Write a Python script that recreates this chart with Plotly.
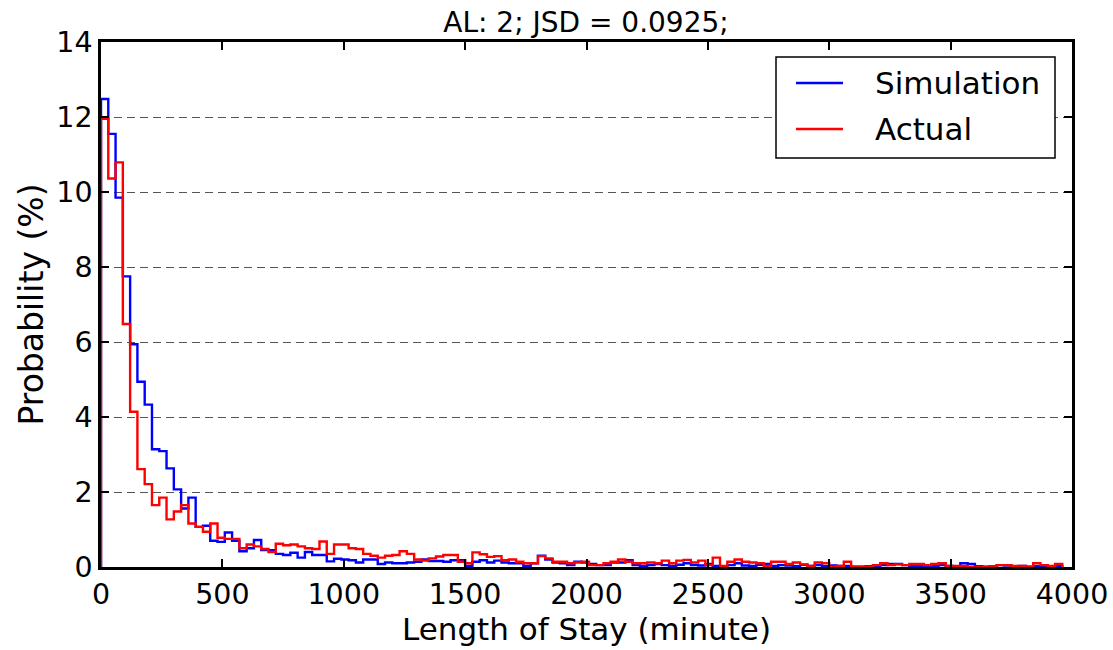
import numpy as np
import plotly.graph_objects as go

BIN_WIDTH = 30  # minutes

simulation = [
    12.48, 11.55, 9.85, 7.75, 5.94, 4.94, 4.33, 3.14, 3.09, 2.63,
    2.07, 1.56, 1.85, 1.07, 1.10, 0.70, 0.67, 0.92, 0.70, 0.42,
    0.50, 0.72, 0.45, 0.45, 0.35, 0.32, 0.38, 0.25, 0.40, 0.32,
    0.32, 0.15, 0.22, 0.20, 0.18, 0.12, 0.20, 0.20, 0.08, 0.12,
    0.10, 0.10, 0.12, 0.14, 0.20, 0.16, 0.16, 0.14, 0.18, 0.18,
    0.03, 0.14, 0.18, 0.12, 0.17, 0.12, 0.10, 0.10, 0.03, 0.10,
    0.30, 0.20, 0.12, 0.10, 0.05, 0.14, 0.12, 0.08, 0.05, 0.05,
    0.12, 0.12, 0.18, 0.05, 0.03, 0.05, 0.08, 0.05, 0.03, 0.06,
    0.10, 0.05, 0.04, 0.08, 0.03, 0.02, 0.05, 0.10, 0.04, 0.03,
    0.06, 0.08, 0.03, 0.05, 0.04, 0.02, 0.06, 0.03, 0.05, 0.02,
    0.04, 0.03, 0.03, 0.01, 0.01, 0.02, 0.03, 0.05, 0.08, 0.08,
    0.05, 0.03, 0.03, 0.02, 0.03, 0.05, 0.03, 0.02, 0.10, 0.08,
    0.02, 0.01, 0.02, 0.05, 0.04, 0.02, 0.03, 0.01, 0.02, 0.03,
    0.01, 0.02,
]

actual = [
    11.95, 10.36, 10.79, 6.48, 4.14, 2.61, 2.21, 1.65, 1.85, 1.27,
    1.48, 1.65, 1.16, 1.07, 0.94, 1.16, 0.78, 0.75, 0.75, 0.50,
    0.60, 0.55, 0.48, 0.40, 0.62, 0.58, 0.60, 0.55, 0.50, 0.48,
    0.68, 0.35, 0.60, 0.60, 0.50, 0.48, 0.35, 0.30, 0.25, 0.30,
    0.32, 0.42, 0.35, 0.20, 0.17, 0.23, 0.28, 0.32, 0.32, 0.14,
    0.10, 0.39, 0.34, 0.27, 0.29, 0.18, 0.20, 0.14, 0.10, 0.10,
    0.29, 0.23, 0.14, 0.14, 0.10, 0.12, 0.14, 0.05, 0.05, 0.10,
    0.14, 0.20, 0.14, 0.10, 0.10, 0.12, 0.10, 0.17, 0.10, 0.17,
    0.19, 0.12, 0.17, 0.05, 0.25, 0.03, 0.14, 0.20, 0.14, 0.12,
    0.10, 0.03, 0.14, 0.14, 0.08, 0.12, 0.07, 0.03, 0.12, 0.10,
    0.01, 0.03, 0.14, 0.01, 0.01, 0.01, 0.05, 0.10, 0.05, 0.07,
    0.05, 0.08, 0.08, 0.05, 0.08, 0.10, 0.03, 0.03, 0.03, 0.00,
    0.00, 0.00, 0.02, 0.05, 0.05, 0.03, 0.03, 0.01, 0.10, 0.05,
    0.03, 0.08,
]

series_names = ["Simulation", "Actual"]
series_colors = ["#0000ff", "#ff0000"]

x_ticks = [0, 500, 1000, 1500, 2000, 2500, 3000, 3500, 4000]
y_ticks = [0, 2, 4, 6, 8, 10, 12, 14]

title_text = "AL: 2; JSD = 0.0925;"
x_title = "Length of Stay (minute)"
y_title = "Probability (%)"

FONT = "DejaVu Sans"
W, H = 1113, 650
ML, MR, MT, MB = 101, 41, 42, 83
PW, PH = W - ML - MR, H - MT - MB


def step_xy(vals):
    edges = np.arange(len(vals) + 1) * BIN_WIDTH
    xs = [edges[0]] + edges.tolist() + [edges[-1]]
    ys = [0] + list(vals) + [vals[-1], 0]
    return xs, ys


def px(x):  # pixel -> paper x
    return (x - ML) / PW


def py(y):  # pixel -> paper y
    return (H - MB - y) / PH


fig = go.Figure()
for name, vals, color in zip(series_names, [simulation, actual], series_colors):
    xs, ys = step_xy(vals)
    fig.add_trace(go.Scatter(x=xs, y=ys, mode="lines", name=name,
                             line=dict(color=color, width=2.4, shape="hv")))

# legend box drawn like matplotlib's
shapes = [dict(type="rect", xref="paper", yref="paper",
               x0=px(776), x1=px(1055), y0=py(158), y1=py(57),
               line=dict(color="black", width=1.5), fillcolor="white",
               layer="above")]
annotations = []
for i, (name, color) in enumerate(zip(series_names, series_colors)):
    yy = 83 + 46 * i
    shapes.append(dict(type="line", xref="paper", yref="paper",
                       x0=px(796), x1=px(843), y0=py(yy), y1=py(yy),
                       line=dict(color=color, width=2.4), layer="above"))
    annotations.append(dict(text=name, xref="paper", yref="paper",
                            x=px(873), y=py(yy), xanchor="left",
                            yanchor="middle", showarrow=False,
                            font=dict(size=31, family=FONT, color="black")))

fig.update_layout(
    width=W, height=H,
    margin=dict(l=ML, r=MR, t=MT, b=MB, autoexpand=False),
    paper_bgcolor="white", plot_bgcolor="white",
    font=dict(family=FONT, color="black", size=29),
    title=dict(text=title_text, x=px(586), xref="paper", xanchor="center",
               y=1 - 22 / H, yanchor="middle",
               font=dict(size=28, family=FONT)),
    showlegend=False,
    shapes=shapes, annotations=annotations,
)
fig.update_xaxes(range=[0, 4000], tickvals=x_ticks, ticks="inside",
                 ticklen=8, tickwidth=2, tickcolor="black",
                 showline=True, linecolor="black", linewidth=2.5,
                 mirror="allticks", showgrid=False, zeroline=False,
                 automargin=False,
                 title=dict(text=x_title, standoff=4, font=dict(size=31)),
                 tickfont=dict(size=28.5))
fig.update_yaxes(range=[0, 14], tickvals=y_ticks, ticks="inside",
                 ticklen=8, tickwidth=2, tickcolor="black",
                 showline=True, linecolor="black", linewidth=2.5,
                 mirror="allticks", showgrid=True, gridcolor="#555555",
                 griddash="8px,5px", gridwidth=1.4, zeroline=False,
                 automargin=False,
                 title=dict(text=y_title, standoff=3, font=dict(size=33)),
                 tickfont=dict(size=28.5))

fig.write_html("out.html")
